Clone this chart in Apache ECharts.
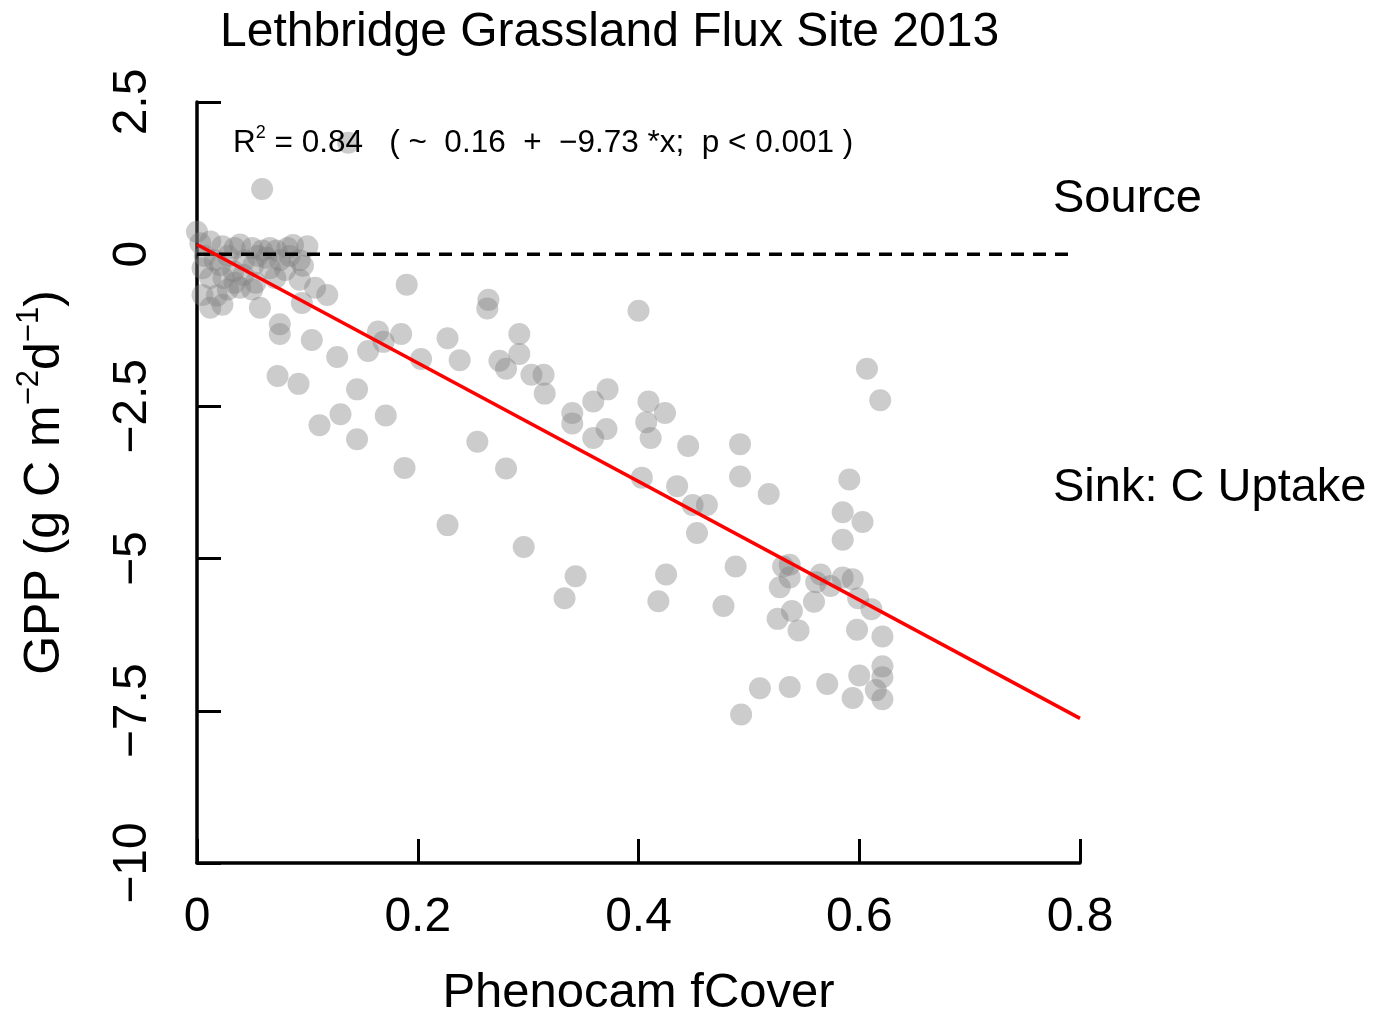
<!DOCTYPE html>
<html>
<head>
<meta charset="utf-8">
<script src="https://cdn.jsdelivr.net/npm/echarts@6/dist/echarts.min.js"></script>
<style>
  html, body { margin: 0; padding: 0; background: #ffffff; }
  #chart { width: 1379px; height: 1023px; }
</style>
</head>
<body>
<div id="chart"></div>
<script>
// ---- data ----
const fCover = [
  0.000, 0.003, 0.012, 0.023, 0.034, 0.039, 0.050, 0.059, 0.066, 0.072,
  0.082, 0.087, 0.100, 0.007, 0.016, 0.028, 0.043, 0.055, 0.063, 0.075,
  0.084, 0.093, 0.005, 0.021, 0.033, 0.042, 0.051, 0.066, 0.080, 0.096,
  0.012, 0.024, 0.034, 0.053, 0.071, 0.093, 0.005, 0.018, 0.050, 0.107,
  0.118, 0.095, 0.012, 0.023, 0.057, 0.039, 0.028,
  0.059, 0.137,
  0.075, 0.075, 0.104, 0.127, 0.164, 0.169, 0.185, 0.155, 0.203, 0.227,
  0.238, 0.190, 0.264, 0.263, 0.292, 0.292, 0.274, 0.280, 0.303, 0.314,
  0.315, 0.340, 0.340, 0.359, 0.372, 0.359, 0.371, 0.400, 0.073, 0.092,
  0.145, 0.130, 0.111, 0.145, 0.171, 0.254, 0.188, 0.280, 0.227, 0.296,
  0.403,
  0.607, 0.619, 0.409, 0.424, 0.407, 0.411, 0.445, 0.492, 0.492, 0.435,
  0.518, 0.449, 0.462, 0.453, 0.591, 0.585, 0.603, 0.585, 0.425, 0.418,
  0.477, 0.488, 0.537, 0.531, 0.537, 0.528, 0.539, 0.526, 0.545, 0.565,
  0.561, 0.574, 0.559, 0.585, 0.594, 0.599, 0.611, 0.598, 0.621, 0.510,
  0.537, 0.571, 0.493, 0.600, 0.621, 0.621, 0.615, 0.621, 0.594,
  0.333, 0.343
];
const gpp = [
  0.37, 0.18, 0.21, 0.13, 0.10, 0.16, 0.10, 0.06, 0.10, 0.06,
  0.10, 0.15, 0.13, -0.03, -0.10, -0.03, -0.10, -0.03, -0.06, -0.10,
  -0.03, -0.10, -0.23, -0.18, -0.28, -0.34, -0.18, -0.23, -0.26, -0.19,
  -0.39, -0.39, -0.47, -0.47, -0.39, -0.42, -0.67, -0.68, -0.58, -0.55,
  -0.67, -0.80, -0.88, -0.83, -0.88, -0.55, -0.58,
  1.07, 1.83,
  -1.15, -1.31, -1.41, -1.69, -1.27, -1.44, -1.31, -1.59, -1.72, -1.38,
  -1.74, -0.50, -0.75, -0.89, -1.31, -1.64, -1.75, -1.88, -1.98, -1.98,
  -2.29, -2.61, -2.78, -2.42, -2.22, -3.02, -2.87, -0.93, -2.00, -2.13,
  -2.22, -2.63, -2.81, -3.04, -2.65, -3.08, -3.51, -3.52, -4.45, -4.81,
  -3.67,
  -1.88, -2.40, -2.42, -2.61, -2.76, -3.02, -3.15, -3.12, -3.65, -3.81,
  -3.94, -4.12, -4.12, -4.58, -3.70, -4.24, -4.40, -4.69, -5.26, -5.70,
  -5.78, -5.13, -5.10, -5.13, -5.31, -5.47, -5.86, -5.99, -6.18, -5.26,
  -5.39, -5.45, -5.71, -5.31, -5.34, -5.65, -5.83, -6.17, -6.28, -7.13,
  -7.11, -7.06, -7.56, -6.92, -6.77, -6.95, -7.16, -7.31, -7.29,
  -5.65, -5.29
];
const xTicks = [0, 0.2, 0.4, 0.6, 0.8];
const yTicks = [-10, -7.5, -5, -2.5, 0, 2.5];
const fitIntercept = 0.16;
const fitSlope = -9.73;
const fitRange = [0, 0.8];
const zeroLineRange = [0, 0.795];

// ---- build chart ----
const points = fCover.map((x, i) => [x, gpp[i]]);
const fitLine = fitRange.map(x => [x, fitIntercept + fitSlope * x]);
const zeroLine = zeroLineRange.map(x => [x, 0]);

const FONT = '"Liberation Sans", Arial, Helvetica, sans-serif';
const chart = echarts.init(document.getElementById('chart'), null, { renderer: 'canvas' });

chart.setOption({
  animation: false,
  backgroundColor: '#ffffff',
  textStyle: { fontFamily: FONT, color: '#000' },
  grid: { left: 197, right: 299, top: 102, bottom: 152, containLabel: false },
  xAxis: {
    type: 'value',
    min: xTicks[0], max: xTicks[xTicks.length - 1], interval: 0.2,
    name: 'Phenocam fCover',
    nameLocation: 'middle',
    nameGap: 106,
    nameTextStyle: { fontSize: 49, color: '#000', fontFamily: FONT },
    axisLine: { show: true, onZero: false, lineStyle: { color: '#000', width: 3.5 } },
    axisTick: { show: true, inside: true, length: 24, lineStyle: { color: '#000', width: 3 } },
    axisLabel: { fontSize: 48, color: '#000', margin: 31, fontFamily: FONT },
    splitLine: { show: false }
  },
  yAxis: {
    type: 'value',
    min: yTicks[0], max: yTicks[yTicks.length - 1], interval: 2.5,
    name: '{n|GPP (g C m}{s|−2}{n|d}{s|−1}{n|)}',
    nameLocation: 'middle',
    nameRotate: 90,
    nameGap: 121,
    nameTextStyle: {
      fontFamily: FONT, color: '#000', fontSize: 50,
      rich: {
        n: { fontSize: 50, lineHeight: 62, fontFamily: FONT, color: '#000' },
        s: { fontSize: 31, lineHeight: 31, verticalAlign: 'top', fontFamily: FONT, color: '#000' }
      }
    },
    axisLine: { show: true, onZero: false, lineStyle: { color: '#000', width: 3.5 } },
    axisTick: { show: true, inside: true, length: 24, lineStyle: { color: '#000', width: 3 } },
    axisLabel: {
      fontSize: 48, color: '#000', rotate: 90, margin: 40, fontFamily: FONT,
      formatter: v => String(v).replace('-', '−')
    },
    splitLine: { show: false }
  },
  series: [
    {
      type: 'scatter',
      data: points,
      symbol: 'circle',
      symbolSize: 22,
      itemStyle: { color: 'rgba(128,128,128,0.5)', borderWidth: 0 },
      z: 2
    },
    {
      type: 'line',
      data: zeroLine,
      showSymbol: false,
      symbol: 'none',
      lineStyle: { color: '#000', width: 3.5, type: [13, 9] },
      z: 3
    },
    {
      type: 'line',
      data: fitLine,
      showSymbol: false,
      symbol: 'none',
      lineStyle: { color: '#ff0000', width: 3.5 },
      z: 4
    }
  ],
  graphic: [
    {
      type: 'text', left: 220, top: 9, z: 100,
      style: { text: 'Lethbridge Grassland Flux Site 2013', font: '48px ' + FONT, fill: '#000' }
    },
    {
      type: 'text', left: 233, top: 124, z: 100,
      style: {
        text: '{n|R}{s|2}{n| = 0.84   ( ~  0.16  +  −9.73 *x;  p < 0.001 )}',
        rich: {
          n: { fontSize: 31.5, lineHeight: 38, fontFamily: FONT, fill: '#000' },
          s: { fontSize: 18, lineHeight: 20, verticalAlign: 'top', fontFamily: FONT, fill: '#000' }
        }
      }
    },
    {
      type: 'text', left: 1053, top: 176, z: 100,
      style: { text: 'Source', font: '47px ' + FONT, fill: '#000' }
    },
    {
      type: 'text', left: 1053, top: 465, z: 100,
      style: { text: 'Sink: C Uptake', font: '47px ' + FONT, fill: '#000' }
    }
  ]
});
</script>
</body>
</html>
